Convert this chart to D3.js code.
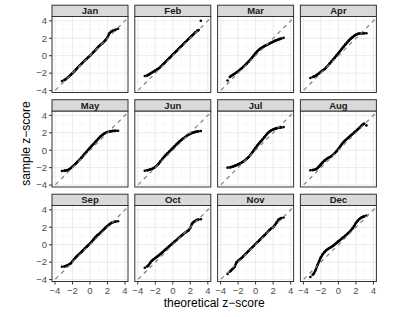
<!DOCTYPE html>
<html>
<head>
<meta charset="utf-8">
<script src="https://cdnjs.cloudflare.com/ajax/libs/d3/7.8.5/d3.min.js"></script>
<style>
  body { margin: 0; background: #fff; }
  svg { font-family: "Liberation Sans", Arial, sans-serif; }
</style>
</head>
<body>
<div id="chartContainer"></div>
<script>

// facet labels
var months = ["Jan", "Feb", "Mar", "Apr", "May", "Jun", "Jul", "Aug", "Sep", "Oct", "Nov", "Dec"];

// theoretical quantiles shared by all panels
var theoretical = [-3.2, -2.95, -2.8, -2.6, -2.4, -2.2, -2.0, -1.8, -1.6, -1.4, -1.2, -1.0, -0.8, -0.6, -0.4, -0.2,
    0, 0.2, 0.4, 0.6, 0.8, 1.0, 1.2, 1.4, 1.6, 1.8, 2.0, 2.2, 2.4, 2.6, 2.8, 2.95, 3.2];

// sample quantiles
var jan = [-2.9, -2.8, -2.72, -2.55, -2.38, -2.2, -2.0, -1.8, -1.58, -1.35, -1.15, -0.95, -0.75, -0.55, -0.37, -0.18,
    0.0, 0.2, 0.42, 0.62, 0.85, 1.08, 1.25, 1.4, 1.6, 1.82, 2.1, 2.55, 2.75, 2.85, 2.92, 3.0, 3.1];
var feb = [-2.33, -2.28, -2.2, -2.08, -1.95, -1.83, -1.7, -1.57, -1.44, -1.28, -1.08, -0.88, -0.68, -0.48, -0.28, -0.08,
    0.12, 0.32, 0.52, 0.72, 0.92, 1.12, 1.32, 1.52, 1.72, 1.92, 2.1, 2.3, 2.5, 2.7, 2.85, 2.95, 4.02];
var mar = [-2.85, -2.45, -2.32, -2.2, -2.07, -1.93, -1.78, -1.62, -1.45, -1.27, -1.08, -0.88, -0.68, -0.45, -0.2, 0.05,
    0.3, 0.52, 0.7, 0.85, 0.98, 1.1, 1.2, 1.3, 1.4, 1.5, 1.6, 1.7, 1.78, 1.86, 1.93, 1.98, 2.05];
var apr = [-2.55, -2.45, -2.4, -2.3, -2.15, -2.0, -1.85, -1.7, -1.55, -1.35, -1.15, -0.9, -0.68, -0.45, -0.2, 0.05,
    0.3, 0.55, 0.8, 1.05, 1.3, 1.52, 1.75, 1.95, 2.12, 2.28, 2.4, 2.5, 2.55, 2.57, 2.58, 2.58, 2.58];
var may = [-2.38, -2.35, -2.33, -2.3, -2.2, -2.05, -1.88, -1.7, -1.5, -1.3, -1.1, -0.88, -0.65, -0.42, -0.18, 0.05,
    0.28, 0.5, 0.72, 0.95, 1.15, 1.38, 1.58, 1.75, 1.88, 2.0, 2.08, 2.13, 2.18, 2.2, 2.22, 2.22, 2.23];
var jun = [-2.35, -2.3, -2.27, -2.22, -2.15, -2.05, -1.92, -1.75, -1.52, -1.27, -1.02, -0.78, -0.55, -0.35, -0.15, 0.05,
    0.25, 0.45, 0.65, 0.85, 1.03, 1.2, 1.35, 1.5, 1.65, 1.78, 1.9, 1.98, 2.05, 2.1, 2.14, 2.17, 2.2];
var jul = [-2.0, -1.97, -1.93, -1.88, -1.8, -1.72, -1.62, -1.52, -1.42, -1.3, -1.15, -0.97, -0.78, -0.55, -0.28, 0.0,
    0.28, 0.55, 0.8, 1.02, 1.25, 1.5, 1.75, 1.98, 2.15, 2.28, 2.38, 2.45, 2.52, 2.57, 2.6, 2.62, 2.65];
var aug = [-2.3, -2.28, -2.25, -2.2, -2.05, -1.85, -1.62, -1.4, -1.2, -1.03, -0.9, -0.8, -0.68, -0.52, -0.32, -0.1,
    0.15, 0.42, 0.7, 0.95, 1.15, 1.32, 1.5, 1.68, 1.85, 2.03, 2.2, 2.38, 2.57, 2.78, 2.95, 3.05, 2.85];
var sep = [-2.52, -2.5, -2.45, -2.38, -2.28, -2.12, -1.9, -1.65, -1.42, -1.22, -1.05, -0.85, -0.65, -0.45, -0.25, -0.05,
    0.12, 0.35, 0.6, 0.85, 1.05, 1.2, 1.38, 1.58, 1.78, 1.98, 2.15, 2.32, 2.48, 2.58, 2.63, 2.66, 2.7];
var oct = [-2.65, -2.5, -2.4, -2.1, -1.85, -1.68, -1.52, -1.38, -1.22, -1.05, -0.88, -0.7, -0.52, -0.35, -0.17, 0.0,
    0.17, 0.35, 0.52, 0.7, 0.87, 1.05, 1.22, 1.38, 1.52, 1.65, 1.95, 2.42, 2.62, 2.75, 2.85, 2.9, 2.92];
var nov = [-3.35, -3.1, -2.95, -2.75, -2.55, -2.05, -1.85, -1.7, -1.52, -1.33, -1.12, -0.92, -0.72, -0.52, -0.32, -0.12,
    0.08, 0.28, 0.48, 0.68, 0.88, 1.08, 1.28, 1.48, 1.7, 1.88, 2.0, 2.25, 2.55, 2.85, 2.98, 3.07, 3.12];
var dec = [-3.7, -3.45, -3.3, -2.9, -2.35, -1.9, -1.45, -1.1, -0.85, -0.65, -0.5, -0.38, -0.25, -0.12, 0.05, 0.22,
    0.4, 0.55, 0.72, 0.88, 1.05, 1.22, 1.4, 1.6, 1.85, 2.15, 2.5, 2.75, 2.95, 3.1, 3.2, 3.25, 3.35];

var samples = [jan, feb, mar, apr, may, jun, jul, aug, sep, oct, nov, dec];

// axis ticks
var majorTicks = [-4, -2, 0, 2, 4];
var minorTicks = [-3, -1, 1, 3];
var tickLabels = ["\u22124", "\u22122", "0", "2", "4"];

///layout
var width = 397, height = 317;
var panelW = 76, panelH = 76;
var left0 = 52, top0 = 16.5;
var colStep = 82.8, rowStep = 94.5;
var stripH = 11.3;
var nCol = 4;

var svg = d3.select("#chartContainer")
    .append("svg")
    .attr("width", width)
    .attr("height", height);

var x = d3.scaleLinear().domain([-4.34, 4.34]).range([0, panelW]);
var y = d3.scaleLinear().domain([-4.22, 4.5]).range([panelH, 0]);

svg.append("clipPath")
    .attr("id", "panelClip")
    .append("rect")
    .attr("width", panelW)
    .attr("height", panelH);

var line = d3.line()
    .x(function(d) { return x(d[0]); })
    .y(function(d) { return y(d[1]); });

months.forEach(function(m, i) {
    var col = i % nCol, row = Math.floor(i / nCol);
    var g = svg.append("g")
        .attr("transform", "translate(" + (left0 + col * colStep) + "," + (top0 + row * rowStep) + ")");

    g.append("rect")
        .attr("width", panelW)
        .attr("height", panelH)
        .attr("fill", "#fff");

    // minor grid
    g.selectAll(".minx").data(minorTicks).enter().append("line")
        .attr("x1", function(d) { return x(d); }).attr("x2", function(d) { return x(d); })
        .attr("y1", 0).attr("y2", panelH)
        .attr("stroke", "#f2f2f2").attr("stroke-width", 0.5);
    g.selectAll(".miny").data(minorTicks).enter().append("line")
        .attr("y1", function(d) { return y(d); }).attr("y2", function(d) { return y(d); })
        .attr("x1", 0).attr("x2", panelW)
        .attr("stroke", "#f2f2f2").attr("stroke-width", 0.5);

    // major grid
    g.selectAll(".majx").data(majorTicks).enter().append("line")
        .attr("x1", function(d) { return x(d); }).attr("x2", function(d) { return x(d); })
        .attr("y1", 0).attr("y2", panelH)
        .attr("stroke", "#ebebeb").attr("stroke-width", 1);
    g.selectAll(".majy").data(majorTicks).enter().append("line")
        .attr("y1", function(d) { return y(d); }).attr("y2", function(d) { return y(d); })
        .attr("x1", 0).attr("x2", panelW)
        .attr("stroke", "#ebebeb").attr("stroke-width", 1);

    var pts = theoretical.map(function(t, j) { return [t, samples[i][j]]; });

    var inner = g.append("g").attr("clip-path", "url(#panelClip)");

    // points
    inner.append("path")
        .datum(pts.slice(1, pts.length - 1))
        .attr("d", line)
        .attr("fill", "none")
        .attr("stroke", "#000")
        .attr("stroke-width", 2.4)
        .attr("stroke-linejoin", "round");

    inner.selectAll("circle").data(pts).enter().append("circle")
        .attr("cx", function(d) { return x(d[0]); })
        .attr("cy", function(d) { return y(d[1]); })
        .attr("r", 1.3)
        .attr("fill", "#000");

    // reference line y = x
    inner.append("line")
        .attr("x1", x(-4.6)).attr("y1", y(-4.6))
        .attr("x2", x(4.6)).attr("y2", y(4.6))
        .attr("stroke", "#7f7f7f")
        .attr("stroke-width", 1.2)
        .attr("stroke-dasharray", "4,4");

    g.append("rect")
        .attr("width", panelW)
        .attr("height", panelH)
        .attr("fill", "none")
        .attr("stroke", "#333")
        .attr("stroke-width", 1);

    // strip
    g.append("rect")
        .attr("y", -stripH)
        .attr("width", panelW)
        .attr("height", stripH)
        .attr("fill", "#d9d9d9")
        .attr("stroke", "#333")
        .attr("stroke-width", 1);
    g.append("text")
        .attr("x", panelW / 2)
        .attr("y", -stripH / 2)
        .attr("dy", "0.36em")
        .attr("text-anchor", "middle")
        .attr("font-size", 9.5)
        .attr("font-weight", "bold")
        .attr("fill", "#1a1a1a")
        .text(m);

    // y axis on first column
    if (col === 0) {
        g.selectAll(".yt").data(majorTicks).enter().append("line")
            .attr("x1", -3).attr("x2", 0)
            .attr("y1", function(d) { return y(d); }).attr("y2", function(d) { return y(d); })
            .attr("stroke", "#333");
        g.selectAll(".yl").data(majorTicks).enter().append("text")
            .attr("x", -5)
            .attr("y", function(d) { return y(d); })
            .attr("dy", "0.35em")
            .attr("text-anchor", "end")
            .attr("font-size", 9.5)
            .attr("fill", "#4d4d4d")
            .text(function(d, k) { return tickLabels[k]; });
    }

    // x axis on bottom row
    if (row === 2) {
        g.selectAll(".xt").data(majorTicks).enter().append("line")
            .attr("y1", panelH).attr("y2", panelH + 3)
            .attr("x1", function(d) { return x(d); }).attr("x2", function(d) { return x(d); })
            .attr("stroke", "#333");
        g.selectAll(".xl").data(majorTicks).enter().append("text")
            .attr("y", panelH + 12)
            .attr("x", function(d) { return x(d); })
            .attr("text-anchor", "middle")
            .attr("font-size", 9.5)
            .attr("fill", "#4d4d4d")
            .text(function(d, k) { return tickLabels[k]; });
    }
});

// axis titles
svg.append("text")
    .attr("x", left0 + (3 * colStep + panelW) / 2)
    .attr("y", 307)
    .attr("text-anchor", "middle")
    .attr("font-size", 12)
    .attr("fill", "#000")
    .text("theoretical z\u2212score");

svg.append("text")
    .attr("transform", "translate(30," + 143.5 + ") rotate(-90)")
    .attr("text-anchor", "middle")
    .attr("font-size", 12)
    .attr("fill", "#000")
    .text("sample z\u2212score");

</script>
</body>
</html>
